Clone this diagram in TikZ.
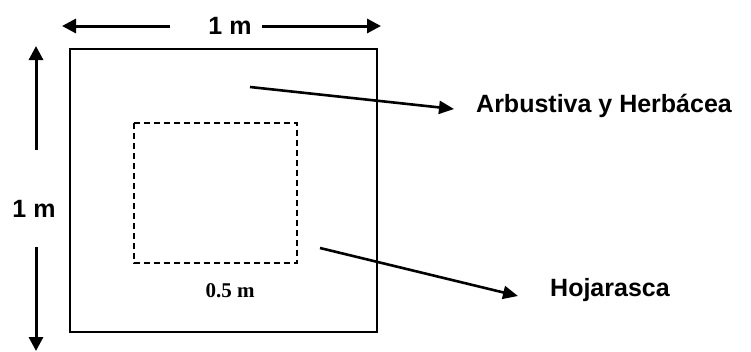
\documentclass[tikz,border=0pt]{standalone}
\usepackage{fontspec}
\setmainfont{Liberation Serif}
\setsansfont{Liberation Sans}
\usetikzlibrary{arrows.meta}
\tikzset{
  dimarrow/.style={line width=3pt, -{Triangle[length=14pt,width=14pt]}},
  pointer/.style={line width=2.6pt, -{Triangle[length=15pt,width=13pt]}},
  label/.style={font=\sffamily\bfseries\fontsize{25}{29}\selectfont, inner sep=0pt, anchor=west},
  dimlabel/.style={font=\sffamily\bfseries\fontsize{25}{29}\selectfont, inner sep=0pt},
  plot/.style={draw, line width=2.4pt},
  subplot/.style={draw, line width=1.8pt, dash pattern=on 6pt off 4pt}
}
\begin{document}
\begin{tikzpicture}[x=1pt, y=-1pt]
  \useasboundingbox[fill=white] (0,0) rectangle (751,351);

  % plot frame and inner litter sub-plot
  \draw[plot] (70,49) rectangle (377,332);
  \draw[subplot] (134,123) rectangle (297,263);
  \node[font=\rmfamily\bfseries\fontsize{21}{25}\selectfont, inner sep=0pt] (half) at (230,291) {0.5 m};

  % width dimension
  \node[dimlabel] (topdim) at (230,26) {1 m};
  \coordinate (topL0) at (170,26);
  \coordinate (topL1) at (62,26);
  \coordinate (topR0) at (262,26);
  \coordinate (topR1) at (381,26);
  \draw[dimarrow] (topL0) -- (topL1);
  \draw[dimarrow] (topR0) -- (topR1);

  % height dimension
  \node[dimlabel] (sidedim) at (34,209) {1 m};
  \coordinate (sideU0) at (36,150);
  \coordinate (sideU1) at (36,46);
  \coordinate (sideD0) at (36,247);
  \coordinate (sideD1) at (36,351);
  \draw[dimarrow] (sideU0) -- (sideU1);
  \draw[dimarrow] (sideD0) -- (sideD1);

  % stratum labels
  \node[label] (shrub) at (476,106) {Arbustiva y Herbácea};
  \node[label] (litter) at (550,290) {Hojarasca};
  \coordinate (shrubSrc) at (250,87);
  \coordinate (litterSrc) at (320,248);
  \draw[pointer] (shrubSrc) -- ([xshift=-22pt,yshift=-3pt]shrub.west);
  \draw[pointer] (litterSrc) -- ([xshift=-32pt,yshift=-6pt]litter.west);
\end{tikzpicture}
\end{document}
